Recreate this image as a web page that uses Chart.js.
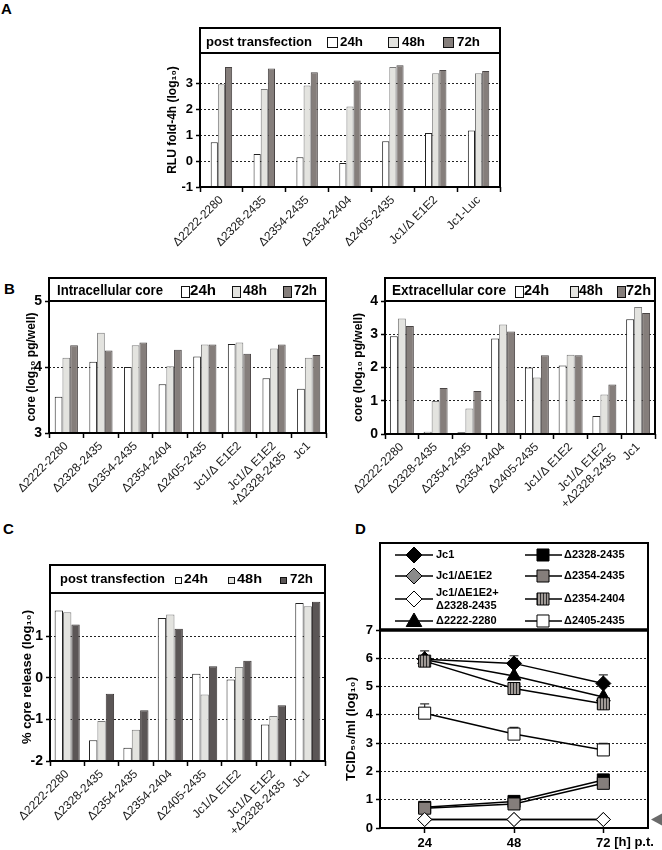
<!DOCTYPE html>
<html><head><meta charset="utf-8">
<script src="https://cdn.jsdelivr.net/npm/chart.js@4.4.1/dist/chart.umd.min.js"></script>
<style>
html,body{margin:0;padding:0;background:#fff}
body{width:662px;height:850px;position:relative;overflow:hidden;font-family:"Liberation Sans",Arial,sans-serif}
canvas{position:absolute}
.lbl{position:absolute;font:bold 15px "Liberation Sans",Arial,sans-serif;color:#000;line-height:17px}
</style></head><body>
<div class="lbl" style="left:1px;top:0px">A</div>
<div class="lbl" style="left:4px;top:280px">B</div>
<div class="lbl" style="left:3px;top:520px">C</div>
<div class="lbl" style="left:355px;top:520px">D</div>
<canvas id="cA" width="370" height="240" style="left:140px;top:20px"></canvas>
<canvas id="cB1" width="330" height="270" style="left:10px;top:270px"></canvas>
<canvas id="cB2" width="317" height="270" style="left:345px;top:270px"></canvas>
<canvas id="cC" width="340" height="310" style="left:0px;top:540px"></canvas>
<canvas id="cD" width="332" height="310" style="left:330px;top:540px"></canvas>
<script>
// ---------------- DATA ----------------
const catsA = ['Δ2222-2280','Δ2328-2435','Δ2354-2435','Δ2354-2404','Δ2405-2435','Jc1/Δ E1E2','Jc1-Luc'];
const catsBC = ['Δ2222-2280','Δ2328-2435','Δ2354-2435','Δ2354-2404','Δ2405-2435','Jc1/Δ E1E2',['Jc1/Δ E1E2','+Δ2328-2435'],'Jc1'];
const timeLabels = ['24h','48h','72h'];
const titleA = 'post transfection';
const titleB1 = 'Intracellular core';
const titleB2 = 'Extracellular core';
const titleC = 'post transfection';

const rlu24 = [0.72, 0.27, 0.15, -0.08, 0.76, 1.08, 1.18];
const rlu48 = [2.96, 2.77, 2.91, 2.10, 3.62, 3.38, 3.38];
const rlu72 = [3.62, 3.56, 3.42, 3.10, 3.69, 3.51, 3.47];

const intra24 = [3.55, 4.08, 4.00, 3.74, 4.16, 4.35, 3.83, 3.67];
const intra48 = [4.14, 4.52, 4.33, 4.01, 4.34, 4.37, 4.28, 4.14];
const intra72 = [4.33, 4.25, 4.37, 4.26, 4.34, 4.20, 4.34, 4.18];

const extra24 = [2.94, 0.07, 0.05, 2.87, 2.00, 2.06, 0.54, 3.45];
const extra48 = [3.47, 0.99, 0.77, 3.29, 1.70, 2.38, 1.19, 3.82];
const extra72 = [3.25, 1.38, 1.29, 3.08, 2.37, 2.37, 1.49, 3.64];

const rel24 = [1.62, -1.50, -1.68, 1.44, 0.10, -0.04, -1.12, 1.80];
const rel48 = [1.58, -1.04, -1.25, 1.52, -0.40, 0.26, -0.92, 1.72];
const rel72 = [1.28, -0.38, -0.78, 1.18, 0.28, 0.41, -0.66, 1.83];

const hours = ['24', '48', '72'];
const hoursUnit = ' [h] p.t.';
const dNames = ['Jc1', 'Jc1/ΔE1E2', ['Jc1/ΔE1E2+', 'Δ2328-2435'], 'Δ2222-2280',
                'Δ2328-2435', 'Δ2354-2435', 'Δ2354-2404', 'Δ2405-2435'];
const tcidJc1 = [5.97, 5.82, 5.11];
const errJc1 = [6.26, 6.09, 5.41];
const tcidJc1dE1E2 = [0.3, 0.3, 0.3];
const tcidJc1dE1E2plus = [0.3, 0.3, 0.3];
const tcid2222 = [5.95, 5.37, 4.63];
const tcid2328 = [0.73, 0.94, 1.70];
const err2328 = [null, 1.12, null];
const tcid2354_2435 = [0.70, 0.85, 1.58];
const tcid2354_2404 = [5.90, 4.93, 4.39];
const tcid2405 = [4.06, 3.32, 2.76];
const err2405 = [4.39, 3.56, 2.99];
const detectionLimit = 0.3;

// ---------------- HELPERS ----------------
const FF = '"Liberation Sans", Arial, Helvetica, sans-serif';
Chart.defaults.font.family = FF;
Chart.defaults.color = '#000';

function fitText(ctx, text, x, y, w) {
  const m = ctx.measureText(text).width;
  ctx.save();
  ctx.translate(x, y);
  if (w && m > 0) ctx.scale(w / m, 1);
  ctx.fillText(text, 0, 0);
  ctx.restore();
}

const headerPlugin = {
  id: 'header',
  afterDraw(chart, args, o) {
    const {ctx, chartArea: ca} = chart;
    const top = ca.top - o.height;
    ctx.save();
    ctx.fillStyle = '#000';
    ctx.textBaseline = 'middle';
    ctx.textAlign = 'left';
    ctx.font = 'bold ' + o.fontSize + 'px ' + FF;
    const ty = top + o.height / 2 + (o.textDy || 0);
    fitText(ctx, o.title, ca.left + o.titleX, ty, o.titleW);
    o.items.forEach((it, i) => {
      const ds = chart.data.datasets[i];
      const bx = Math.round(ca.left + it.bx) + 0.5;
      const by = Math.round(ty - o.boxH / 2 + (o.boxDy || 0)) + 0.5;
      ctx.fillStyle = ds.backgroundColor;
      ctx.fillRect(bx, by, o.boxW, o.boxH);
      ctx.strokeStyle = '#111';
      ctx.lineWidth = 1;
      ctx.strokeRect(bx, by, o.boxW, o.boxH);
      ctx.fillStyle = '#000';
      fitText(ctx, ds.label, ca.left + it.tx, ty, it.w);
    });
    ctx.lineWidth = 2;
    ctx.strokeStyle = '#000';
    ctx.strokeRect(ca.left, top, ca.right - ca.left, ca.bottom - top);
    ctx.beginPath();
    ctx.moveTo(ca.left, ca.top);
    ctx.lineTo(ca.right, ca.top);
    ctx.stroke();
    ctx.restore();
  }
};

function barChart(id, cats, series, fills, strokes, cfg) {
  return new Chart(document.getElementById(id), {
    type: 'bar',
    data: {
      labels: cats,
      datasets: series.map((d, i) => ({
        label: timeLabels[i], data: d, base: cfg.min,
        backgroundColor: fills[i], borderColor: strokes[i], borderWidth: 1,
        borderSkipped: 'start', categoryPercentage: cfg.catPct, barPercentage: 1
      }))
    },
    options: {
      responsive: false, animation: false, devicePixelRatio: 1,
      layout: {padding: cfg.pad},
      plugins: {legend: {display: false}, tooltip: {enabled: false}, header: cfg.header},
      scales: {
        x: {
          grid: {display: true, offset: true, drawOnChartArea: false, tickLength: 5, tickColor: '#000', tickWidth: 1.5},
          border: {display: false},
          ticks: {autoSkip: false, minRotation: 45, maxRotation: 45, padding: 1, color: '#1a1a1a',
                  font: {size: 12, weight: 'normal'}},
          afterFit: s => { s.height = cfg.xh; s.paddingLeft = 0; s.paddingRight = 0; }
        },
        y: {
          min: cfg.min, max: cfg.max,
          afterBuildTicks: s => { s.ticks = s.ticks.filter(t => Number.isInteger(t.value)); },
          ticks: {stepSize: 1, padding: 3, color: '#000', font: {size: cfg.tickSize, weight: 'bold'}},
          grid: {
            color: c => (c.tick && cfg.gridVals.includes(c.tick.value)) ? '#222' : 'rgba(0,0,0,0)',
            lineWidth: 1, tickColor: '#000', tickLength: 4, tickWidth: 1.5
          },
          border: {display: false, dash: [2, 2]},
          title: {display: true, text: cfg.ytitle, padding: 0, color: '#000',
                  font: {size: cfg.titleSize, weight: 'bold'}},
          afterFit: s => { s.width = cfg.yw; s.paddingTop = 0; s.paddingBottom = 0; }
        }
      }
    },
    plugins: [headerPlugin]
  });
}

const fillsStd = ['#ffffff', '#e3e3df', '#857e7b'];
const strokesStd = ['#222222', '#7c7c7c', '#4a4545'];
const fillsC = ['#ffffff', '#e3e3df', '#5b5656'];
const strokesC = ['#222222', '#7c7c7c', '#3a3535'];

// Panel A
barChart('cA', catsA, [rlu24, rlu48, rlu72], fillsStd, strokesStd, {
  min: -1, max: 4.16, gridVals: [0, 1, 2, 3], catPct: 0.5,
  pad: {left: 25, right: 10, top: 33, bottom: 0}, xh: 73, yw: 35,
  tickSize: 13, titleSize: 12, ytitle: 'RLU fold-4h (log₁₀)',
  header: {height: 25, fontSize: 13, textDy: 1.5, title: titleA, titleX: 6, titleW: 106,
           boxW: 10, boxH: 10, boxDy: 0,
           items: [{bx: 127, tx: 140, w: 23}, {bx: 188, tx: 202, w: 23}, {bx: 243, tx: 257, w: 23}]}
});

// Panel B left
barChart('cB1', catsBC, [intra24, intra48, intra72], fillsStd, strokesStd, {
  min: 3, max: 5, gridVals: [4], catPct: 0.67,
  pad: {left: 14, right: 14, top: 31, bottom: 0}, xh: 107, yw: 25,
  tickSize: 14, titleSize: 12, ytitle: 'core (log₁₀ pg/well)',
  header: {height: 23, fontSize: 14, textDy: 1.5, title: titleB1, titleX: 8, titleW: 106,
           boxW: 8, boxH: 11, boxDy: 0,
           items: [{bx: 132, tx: 141, w: 26}, {bx: 183, tx: 194, w: 24}, {bx: 234, tx: 245, w: 23}]}
});

// Panel B right
barChart('cB2', catsBC, [extra24, extra48, extra72], fillsStd, strokesStd, {
  min: 0, max: 4, gridVals: [1, 2, 3], catPct: 0.71,
  pad: {left: 6, right: 7, top: 31, bottom: 0}, xh: 106, yw: 34,
  tickSize: 14, titleSize: 12, ytitle: 'core (log₁₀ pg/well)',
  header: {height: 23, fontSize: 14, textDy: 1.5, title: titleB2, titleX: 7, titleW: 114,
           boxW: 8, boxH: 11, boxDy: 0,
           items: [{bx: 130, tx: 139, w: 25}, {bx: 185, tx: 194, w: 24}, {bx: 232, tx: 241, w: 25}]}
});

// Panel C
barChart('cC', catsBC, [rel24, rel48, rel72], fillsC, strokesC, {
  min: -2, max: 2.04, gridVals: [-1, 0, 1], catPct: 0.73,
  pad: {left: 20, right: 15, top: 53, bottom: 0}, xh: 89, yw: 30,
  tickSize: 14, titleSize: 13, ytitle: '% core release (log₁₀)',
  header: {height: 28, fontSize: 13, textDy: 0, title: titleC, titleX: 10, titleW: 105,
           boxW: 6, boxH: 6, boxDy: 1,
           items: [{bx: 125, tx: 134, w: 24}, {bx: 178, tx: 187, w: 25}, {bx: 230, tx: 240, w: 23}]}
});

// ---------------- Panel D ----------------
const stripePattern = (() => {
  const c = document.createElement('canvas'); c.width = 3; c.height = 4;
  const g = c.getContext('2d');
  g.fillStyle = '#a09a96'; g.fillRect(0, 0, 3, 4);
  g.fillStyle = '#2e2e2e'; g.fillRect(0, 0, 1, 4);
  return g.createPattern(c, 'repeat');
})();

function lineDs(nameIdx, data, err, style, r, fill) {
  const n = dNames[nameIdx];
  return {
    label: Array.isArray(n) ? n.join('') : n, nameIdx, data, err,
    pointStyle: style, pointRadius: r, pointHoverRadius: r,
    pointBackgroundColor: fill, pointBorderColor: '#000', pointBorderWidth: 1,
    borderColor: '#000', borderWidth: 1.5, fill: false, tension: 0, clip: false
  };
}

const dDatasets = [
  lineDs(2, tcidJc1dE1E2plus, null, 'rectRot', 7, '#ffffff'),
  lineDs(6, tcid2354_2404, null, 'rect', 8.5, stripePattern),
  lineDs(0, tcidJc1, errJc1, 'rectRot', 7.5, '#000000'),
  lineDs(3, tcid2222, null, 'triangle', 8, '#000000'),
  lineDs(7, tcid2405, err2405, 'rect', 8.5, '#ffffff'),
  lineDs(5, tcid2354_2435, null, 'rect', 8.5, '#857e7b'),
  lineDs(4, tcid2328, err2328, 'rect', 8.5, '#000000'),
  lineDs(1, tcidJc1dE1E2, null, 'rectRot', 7, '#8a8a8a')
];

function drawMarker(ctx, style, x, y, r, fill) {
  ctx.beginPath();
  if (style === 'rectRot') {
    ctx.moveTo(x - r, y); ctx.lineTo(x, y - r); ctx.lineTo(x + r, y); ctx.lineTo(x, y + r); ctx.closePath();
  } else if (style === 'rect') {
    const s = r * Math.SQRT1_2; ctx.rect(x - s, y - s, 2 * s, 2 * s);
  } else if (style === 'triangle') {
    let a = 0;
    ctx.moveTo(x + Math.sin(a) * r, y - Math.cos(a) * r);
    a += 2 * Math.PI / 3; ctx.lineTo(x + Math.sin(a) * r, y - Math.cos(a) * r);
    a += 2 * Math.PI / 3; ctx.lineTo(x + Math.sin(a) * r, y - Math.cos(a) * r);
    ctx.closePath();
  }
  ctx.fillStyle = fill; ctx.fill();
  ctx.lineWidth = 1; ctx.strokeStyle = '#000'; ctx.stroke();
}

const errPlugin = {
  id: 'errbars',
  beforeDatasetsDraw(chart) {
    const {ctx} = chart; const ys = chart.scales.y;
    ctx.save(); ctx.strokeStyle = '#333'; ctx.lineWidth = 1.2;
    chart.data.datasets.forEach((ds, di) => {
      if (!ds.err) return;
      const meta = chart.getDatasetMeta(di);
      ds.err.forEach((e, i) => {
        if (e == null) return;
        const p = meta.data[i]; const ye = ys.getPixelForValue(e);
        ctx.beginPath();
        ctx.moveTo(p.x, p.y); ctx.lineTo(p.x, ye);
        ctx.moveTo(p.x - 4.5, ye); ctx.lineTo(p.x + 4.5, ye);
        ctx.stroke();
      });
    });
    ctx.restore();
  }
};

const dLegendPlugin = {
  id: 'dlegend',
  afterDraw(chart, args, o) {
    const {ctx, chartArea: ca} = chart;
    const xs = chart.scales.x, ys = chart.scales.y;
    ctx.save();
    // legend entries
    ctx.font = 'bold 11px ' + FF; ctx.textBaseline = 'middle'; ctx.textAlign = 'left';
    dNames.forEach((n, k) => {
      const ds = chart.data.datasets.find(d => d.nameIdx === k);
      const col = k < 4 ? 0 : 1, row = k % 4;
      const c = o.cols[col];
      const y = ca.top + o.rows[row];
      ctx.strokeStyle = '#000'; ctx.lineWidth = 1.5;
      ctx.beginPath(); ctx.moveTo(ca.left + c.l0, y); ctx.lineTo(ca.left + c.l1, y); ctx.stroke();
      const lr = ds.pointStyle === 'rectRot' ? 8 : (ds.pointStyle === 'triangle' ? 9 : 8.5);
      drawMarker(ctx, ds.pointStyle, ca.left + c.m, y + (ds.pointStyle === 'triangle' ? 1 : 0), lr, ds.pointBackgroundColor);
      ctx.fillStyle = '#000';
      if (Array.isArray(n)) {
        ctx.fillText(n[0], ca.left + c.t, y - o.multi);
        ctx.fillText(n[1], ca.left + c.t, y + o.multi);
      } else {
        ctx.fillText(n, ca.left + c.t, y);
      }
    });
    // legend box + plot frame
    ctx.strokeStyle = '#000'; ctx.lineWidth = 2;
    ctx.strokeRect(ca.left, o.boxTop, ca.right - ca.left, ca.top - o.boxTop);
    ctx.strokeRect(ca.left, ca.top, ca.right - ca.left, ca.bottom - ca.top);
    ctx.lineWidth = 3.5;
    ctx.beginPath(); ctx.moveTo(ca.left - 1, ca.top); ctx.lineTo(ca.right + 1, ca.top); ctx.stroke();
    // detection limit marker
    const yl = ys.getPixelForValue(detectionLimit);
    ctx.fillStyle = '#6a6a6a';
    ctx.beginPath(); ctx.moveTo(ca.right + 3, yl); ctx.lineTo(ca.right + 15, yl - 6.5); ctx.lineTo(ca.right + 15, yl + 6.5); ctx.closePath(); ctx.fill();
    // unit text after last tick label
    ctx.font = 'bold 13px ' + FF; ctx.textBaseline = 'top'; ctx.textAlign = 'left'; ctx.fillStyle = '#000';
    const lastI = hours.length - 1;
    const lx = xs.getPixelForTick(lastI) + ctx.measureText(hours[lastI]).width / 2;
    ctx.fillText(hoursUnit, lx, ca.bottom + 8);
    ctx.restore();
  }
};

new Chart(document.getElementById('cD'), {
  type: 'line',
  data: {labels: hours, datasets: dDatasets},
  options: {
    responsive: false, animation: false, devicePixelRatio: 1,
    layout: {padding: {left: 14, right: 14, top: 90, bottom: 0}},
    plugins: {
      legend: {display: false}, tooltip: {enabled: false},
      dlegend: {
        boxTop: 3, multi: 6.5,
        rows: [-75, -54, -31, -9],
        cols: [{l0: 15, l1: 53, m: 34, t: 56}, {l0: 145, l1: 182, m: 163, t: 184}]
      }
    },
    scales: {
      x: {
        offset: true,
        grid: {display: true, offset: false, drawOnChartArea: false, tickLength: 5, tickColor: '#000', tickWidth: 1.5},
        border: {display: false},
        ticks: {padding: 3, color: '#000', font: {size: 13, weight: 'bold'}},
        afterFit: s => { s.height = 22; s.paddingLeft = 0; s.paddingRight = 0; }
      },
      y: {
        min: 0, max: 7,
        ticks: {stepSize: 1, padding: 3, color: '#000', font: {size: 13, weight: 'bold'}},
        grid: {
          color: c => (c.tick && c.tick.value > 0 && c.tick.value < 7) ? '#222' : 'rgba(0,0,0,0)',
          lineWidth: 1, tickColor: '#000', tickLength: 4, tickWidth: 1.5
        },
        border: {display: false, dash: [2, 2]},
        title: {display: true, text: 'TCID₅₀/ml (log₁₀)', padding: 0, color: '#000', font: {size: 13, weight: 'bold'}},
        afterFit: s => { s.width = 36; s.paddingTop = 0; s.paddingBottom = 0; }
      }
    }
  },
  plugins: [errPlugin, dLegendPlugin]
});
</script>
</body></html>
